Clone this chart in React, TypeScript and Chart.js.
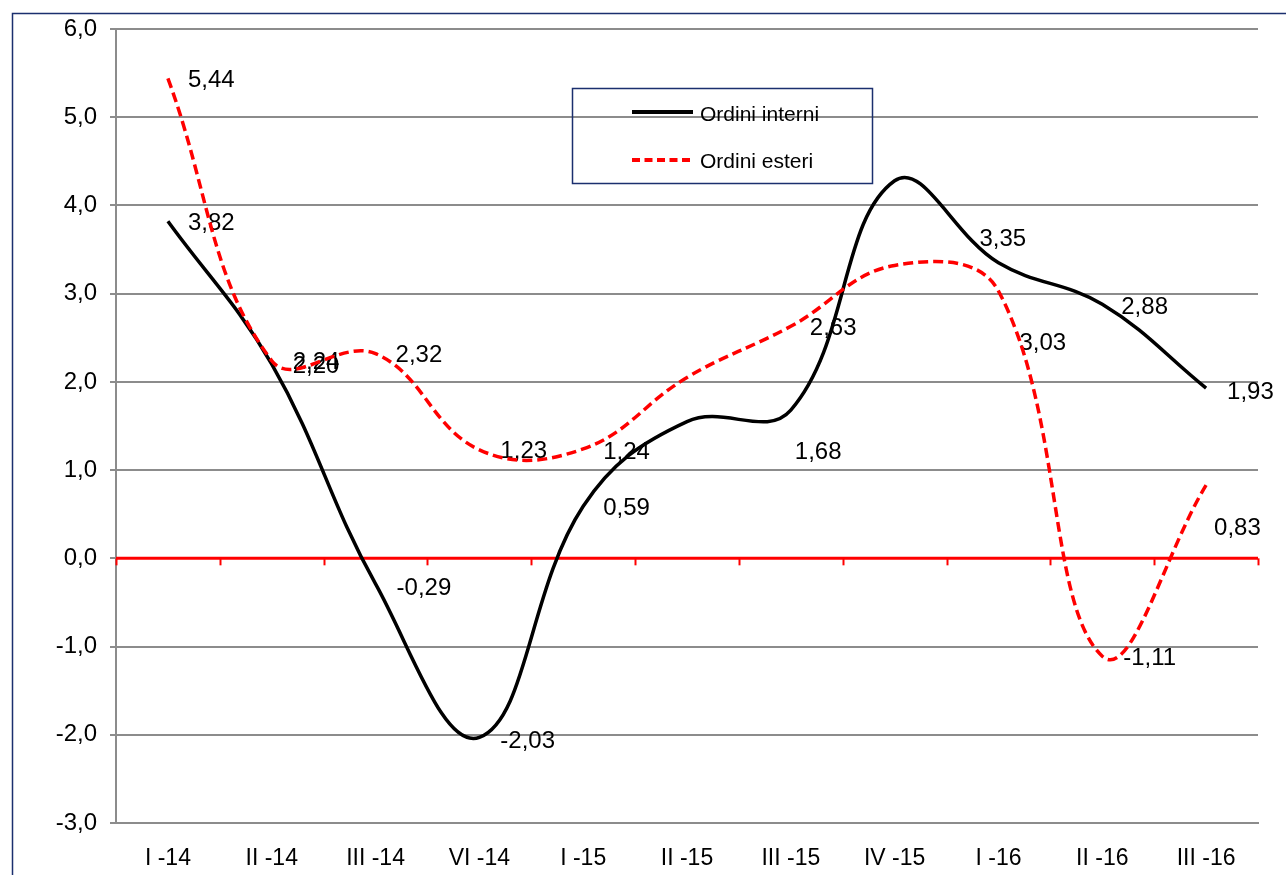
import React, { useEffect, useRef } from "react";
import { Chart, registerables } from "chart.js";

Chart.register(...registerables);

// Quarters on the category axis
const quarters = [
  "I -14", "II -14", "III -14", "VI -14", "I -15", "II -15",
  "III -15", "IV -15", "I -16", "II -16", "III -16",
];

// Series values (percent)
const ordiniInterni = [3.82, 2.2, -0.29, -2.03, 0.59, 1.55, 1.68, 4.28, 3.35, 2.88, 1.93];
const ordiniEsteri = [5.44, 2.24, 2.32, 1.23, 1.24, 2.05, 2.63, 3.32, 3.03, -1.11, 0.83];

// Which points carry a value label
const interniLabelShown = [true, true, true, true, true, false, true, false, true, true, true];
const esteriLabelShown = [true, true, true, true, true, false, true, false, true, true, true];

// Value axis range
const yMin = -3;
const yMax = 6;
const yStep = 1;

// Label offsets from each point [dx, dy]
const interniLabelOffset: [number, number][] = [
  [20, 2], [21, 2], [21, 4], [21, 4], [20, 2], [0, 0], [4, 42], [0, 0], [-19, -23], [19, 3], [21, 4],
];
const esteriLabelOffset: [number, number][] = [
  [20, 2], [21, 2], [20, 2], [21, 2], [20, 3], [0, 0], [19, 2], [0, 0], [21, 52], [21, 2], [8, 43],
];

const FONT = "'Liberation Sans', Arial, sans-serif";
const NAVY = "#1b2f6e";
const GRID = "#8c8c8c";

const fmt = (v: number, d: number) => v.toFixed(d).replace(".", ",");

const framePlugin = {
  id: "frame",
  beforeDraw(chart: any) {
    const { ctx, width, height } = chart;
    ctx.save();
    ctx.fillStyle = "#ffffff";
    ctx.fillRect(0, 0, width, height);
    ctx.strokeStyle = NAVY;
    ctx.lineWidth = 1.5;
    ctx.strokeRect(12.5, 13.5, width + 50, height + 50);
    ctx.restore();
  },
};

const zeroAxisPlugin = {
  id: "zeroAxis",
  beforeDatasetsDraw(chart: any) {
    const { ctx, chartArea, scales } = chart;
    const y0 = scales.y.getPixelForValue(0);
    const n = quarters.length;
    const step = (chartArea.right - chartArea.left) / n;
    ctx.save();
    ctx.strokeStyle = "#ff0000";
    ctx.lineWidth = 3;
    ctx.beginPath();
    ctx.moveTo(chartArea.left, y0);
    ctx.lineTo(chartArea.right, y0);
    ctx.stroke();
    ctx.lineWidth = 2;
    for (let k = 0; k <= n; k++) {
      const x = Math.round(chartArea.left + k * step) + 0.5;
      ctx.beginPath();
      ctx.moveTo(x, y0);
      ctx.lineTo(x, y0 + 7);
      ctx.stroke();
    }
    // value labels sit beneath the lines
    ctx.fillStyle = "#000000";
    ctx.font = `24px ${FONT}`;
    ctx.textAlign = "left";
    ctx.textBaseline = "middle";
    const series = [
      { idx: 0, values: ordiniInterni, shown: interniLabelShown, off: interniLabelOffset },
      { idx: 1, values: ordiniEsteri, shown: esteriLabelShown, off: esteriLabelOffset },
    ];
    series.forEach((s) => {
      const meta = chart.getDatasetMeta(s.idx);
      s.values.forEach((v, i) => {
        if (!s.shown[i]) return;
        const pt = meta.data[i];
        ctx.fillText(fmt(v, 2), pt.x + s.off[i][0], pt.y + s.off[i][1]);
      });
    });
    ctx.restore();
  },
};

const legendPlugin = {
  id: "boxLegend",
  afterDraw(chart: any) {
    const { ctx } = chart;
    ctx.save();
    ctx.strokeStyle = NAVY;
    ctx.lineWidth = 1.5;
    ctx.strokeRect(572.5, 88.5, 300, 95);

    ctx.lineWidth = 4;
    ctx.strokeStyle = "#000000";
    ctx.beginPath();
    ctx.moveTo(632, 112);
    ctx.lineTo(693, 112);
    ctx.stroke();

    ctx.strokeStyle = "#ff0000";
    ctx.setLineDash([8, 4.5]);
    ctx.beginPath();
    ctx.moveTo(632, 160);
    ctx.lineTo(693, 160);
    ctx.stroke();
    ctx.setLineDash([]);

    ctx.fillStyle = "#000000";
    ctx.font = `21px ${FONT}`;
    ctx.textAlign = "left";
    ctx.textBaseline = "middle";
    ctx.fillText("Ordini interni", 700, 115);
    ctx.fillText("Ordini esteri", 700, 162);
    ctx.restore();
  },
};

export default function App() {
  const canvasRef = useRef<HTMLCanvasElement | null>(null);

  useEffect(() => {
    if (!canvasRef.current) return;
    const chart = new Chart(canvasRef.current, {
      type: "line",
      data: {
        labels: quarters,
        datasets: [
          {
            label: "Ordini interni",
            data: ordiniInterni,
            borderColor: "#000000",
            borderWidth: 3.5,
            pointRadius: 0,
            tension: 0.4,
            fill: false,
            order: 1,
          },
          {
            label: "Ordini esteri",
            data: ordiniEsteri,
            borderColor: "#ff0000",
            borderWidth: 3.5,
            borderDash: [10, 5],
            pointRadius: 0,
            tension: 0.4,
            fill: false,
            order: 0,
          },
        ],
      },
      options: {
        animation: false,
        responsive: true,
        maintainAspectRatio: false,
        layout: { padding: { left: 0, right: 28, top: 29, bottom: 0 } },
        plugins: {
          legend: { display: false },
          tooltip: { enabled: false },
        },
        scales: {
          x: {
            type: "category",
            offset: true,
            grid: { display: false, drawTicks: false },
            border: { display: true, color: GRID, width: 2 },
            ticks: {
              color: "#000000",
              font: { family: FONT, size: 23 },
              padding: 22,
              maxRotation: 0,
              autoSkip: false,
            },
            afterFit(scale: any) {
              scale.height = 52;
            },
          },
          y: {
            min: yMin,
            max: yMax,
            grid: {
              color: GRID,
              lineWidth: 2,
              tickLength: 6,
              tickColor: GRID,
            },
            border: { display: true, color: GRID, width: 2 },
            ticks: {
              stepSize: yStep,
              color: "#000000",
              font: { family: FONT, size: 24 },
              padding: 13,
              callback: (v: any) => fmt(Number(v), 1),
            },
            afterFit(scale: any) {
              scale.width = 116;
            },
          },
        },
      },
      plugins: [framePlugin, zeroAxisPlugin, legendPlugin],
    });
    return () => chart.destroy();
  }, []);

  return (
    <div style={{ position: "absolute", left: 0, top: 0, width: 1286, height: 875 }}>
      <canvas ref={canvasRef} />
    </div>
  );
}
